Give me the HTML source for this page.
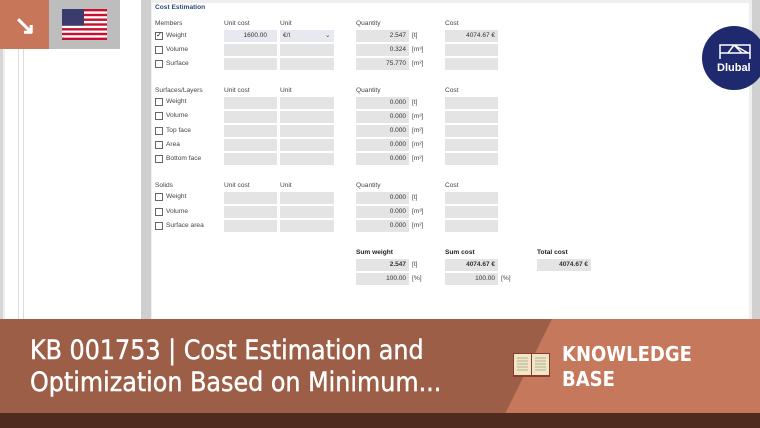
<!DOCTYPE html>
<html><head><meta charset="utf-8"><style>
*{margin:0;padding:0;box-sizing:border-box}
body{width:760px;height:428px;overflow:hidden;background:#efefef;font-family:"Liberation Sans",sans-serif;position:relative}
.a{position:absolute}
.t{position:absolute;font-size:6.6px;color:#444;white-space:nowrap}
.f{position:absolute;height:12px;background:#e4e4e4}
.n{position:absolute;font-size:6.5px;color:#333;text-align:right;line-height:12px;padding-right:3px}
.cb{position:absolute;width:8px;height:8px;border:1px solid #666;background:#fff}
</style></head><body>
<div class="a" style="left:0;top:0;width:3px;height:320px;background:#d6d6d6"></div>
<div class="a" style="left:5px;top:0;width:136px;height:320px;background:#fff"></div>
<div class="a" style="left:18px;top:0;width:1px;height:320px;background:#ddd"></div>
<div class="a" style="left:23px;top:0;width:1px;height:320px;background:#ddd"></div>
<div class="a" style="left:141px;top:0;width:10px;height:320px;background:#cfcfcf"></div>
<div class="a" style="left:152px;top:3px;width:597px;height:317px;background:#fff"></div>
<div class="a" style="left:752px;top:0;width:8px;height:320px;background:#d0d0d0"></div>
<div class="a" style="left:0;top:0;width:49px;height:49px;background:#c8765a"></div>
<div class="a" style="left:14px;top:12px;font-size:26px;color:#fff;font-weight:bold;line-height:26px">&#8600;</div>
<div class="a" style="left:49px;top:0;width:71px;height:49px;background:#bdbdbd"></div>
<svg class="a" style="left:62px;top:9px" width="45" height="31" viewBox="0 0 45 31">
<rect width="45" height="31" fill="#fff"/>
<g fill="#c8102e"><rect y="0" width="45" height="2.4"/><rect y="4.8" width="45" height="2.4"/><rect y="9.5" width="45" height="2.4"/><rect y="14.3" width="45" height="2.4"/><rect y="19.1" width="45" height="2.4"/><rect y="23.8" width="45" height="2.4"/><rect y="28.6" width="45" height="2.4"/></g>
<rect width="22" height="16.7" fill="#3c3b6e"/></svg>
<div class="a" style="left:702px;top:26px;width:64px;height:64px;border-radius:50%;background:#1f2a6e"></div>
<svg class="a" style="left:718px;top:43px" width="34" height="18"><g stroke="#fff" stroke-width="1.5" fill="none"><path d="M2 16V2h30v14M2 10h30M10 10L16 2M16 2L30 10M16 2L24 10"/></g></svg>
<div class="a" style="left:717px;top:62px;font-size:11px;font-weight:bold;color:#fff">Dlubal</div>
<div class="t" style="left:155px;top:4px;color:#2d4a7a;font-weight:bold">Cost Estimation</div>

<div class="t" style="left:155px;top:20px">Members</div><div class="t" style="left:224px;top:20px">Unit cost</div><div class="t" style="left:280px;top:20px">Unit</div><div class="t" style="left:356px;top:20px">Quantity</div><div class="t" style="left:445px;top:20px">Cost</div>
<div class="cb" style="left:155px;top:32px;font-size:7px;line-height:6px;text-align:center">&#10003;</div><div class="t" style="left:166px;top:32px">Weight</div>
<div class="f" style="left:224px;top:30px;width:53px;background:#e8e8f0"></div><div class="n" style="left:224px;top:30px;width:46px">1600.00</div>
<div class="f" style="left:280px;top:30px;width:54px;background:#e8e8f0"></div><div class="t" style="left:283px;top:32px">€/t</div><div class="t" style="left:325px;top:31px">&#8964;</div>
<div class="f" style="left:356px;top:30px;width:53px"></div><div class="n" style="left:356px;top:30px;width:53px">2.547</div><div class="t" style="left:412px;top:32px">[t]</div>
<div class="f" style="left:445px;top:30px;width:53px"></div><div class="n" style="left:445px;top:30px;width:53px">4074.67 €</div>
<div class="cb" style="left:155px;top:46px"></div><div class="t" style="left:166px;top:46px">Volume</div><div class="f" style="left:224px;top:44px;width:53px"></div><div class="f" style="left:280px;top:44px;width:54px"></div><div class="f" style="left:356px;top:44px;width:53px"></div><div class="n" style="left:356px;top:44px;width:53px">0.324</div><div class="t" style="left:412px;top:46px">[m³]</div><div class="f" style="left:445px;top:44px;width:53px"></div>
<div class="cb" style="left:155px;top:60px"></div><div class="t" style="left:166px;top:60px">Surface</div><div class="f" style="left:224px;top:58px;width:53px"></div><div class="f" style="left:280px;top:58px;width:54px"></div><div class="f" style="left:356px;top:58px;width:53px"></div><div class="n" style="left:356px;top:58px;width:53px">75.770</div><div class="t" style="left:412px;top:60px">[m²]</div><div class="f" style="left:445px;top:58px;width:53px"></div>

<div class="t" style="left:155px;top:87px">Surfaces/Layers</div><div class="t" style="left:224px;top:87px">Unit cost</div><div class="t" style="left:280px;top:87px">Unit</div><div class="t" style="left:356px;top:87px">Quantity</div><div class="t" style="left:445px;top:87px">Cost</div>
<div class="cb" style="left:155px;top:98px"></div><div class="t" style="left:166px;top:98px">Weight</div><div class="f" style="left:224px;top:97px;width:53px"></div><div class="f" style="left:280px;top:97px;width:54px"></div><div class="f" style="left:356px;top:97px;width:53px"></div><div class="n" style="left:356px;top:97px;width:53px">0.000</div><div class="t" style="left:412px;top:99px">[t]</div><div class="f" style="left:445px;top:97px;width:53px"></div>
<div class="cb" style="left:155px;top:112px"></div><div class="t" style="left:166px;top:112px">Volume</div><div class="f" style="left:224px;top:111px;width:53px"></div><div class="f" style="left:280px;top:111px;width:54px"></div><div class="f" style="left:356px;top:111px;width:53px"></div><div class="n" style="left:356px;top:111px;width:53px">0.000</div><div class="t" style="left:412px;top:113px">[m³]</div><div class="f" style="left:445px;top:111px;width:53px"></div>
<div class="cb" style="left:155px;top:127px"></div><div class="t" style="left:166px;top:127px">Top face</div><div class="f" style="left:224px;top:125px;width:53px"></div><div class="f" style="left:280px;top:125px;width:54px"></div><div class="f" style="left:356px;top:125px;width:53px"></div><div class="n" style="left:356px;top:125px;width:53px">0.000</div><div class="t" style="left:412px;top:127px">[m²]</div><div class="f" style="left:445px;top:125px;width:53px"></div>
<div class="cb" style="left:155px;top:141px"></div><div class="t" style="left:166px;top:141px">Area</div><div class="f" style="left:224px;top:139px;width:53px"></div><div class="f" style="left:280px;top:139px;width:54px"></div><div class="f" style="left:356px;top:139px;width:53px"></div><div class="n" style="left:356px;top:139px;width:53px">0.000</div><div class="t" style="left:412px;top:141px">[m²]</div><div class="f" style="left:445px;top:139px;width:53px"></div>
<div class="cb" style="left:155px;top:155px"></div><div class="t" style="left:166px;top:155px">Bottom face</div><div class="f" style="left:224px;top:153px;width:53px"></div><div class="f" style="left:280px;top:153px;width:54px"></div><div class="f" style="left:356px;top:153px;width:53px"></div><div class="n" style="left:356px;top:153px;width:53px">0.000</div><div class="t" style="left:412px;top:155px">[m²]</div><div class="f" style="left:445px;top:153px;width:53px"></div>

<div class="t" style="left:155px;top:182px">Solids</div><div class="t" style="left:224px;top:182px">Unit cost</div><div class="t" style="left:280px;top:182px">Unit</div><div class="t" style="left:356px;top:182px">Quantity</div><div class="t" style="left:445px;top:182px">Cost</div>
<div class="cb" style="left:155px;top:193px"></div><div class="t" style="left:166px;top:193px">Weight</div><div class="f" style="left:224px;top:192px;width:53px"></div><div class="f" style="left:280px;top:192px;width:54px"></div><div class="f" style="left:356px;top:192px;width:53px"></div><div class="n" style="left:356px;top:192px;width:53px">0.000</div><div class="t" style="left:412px;top:194px">[t]</div><div class="f" style="left:445px;top:192px;width:53px"></div>
<div class="cb" style="left:155px;top:208px"></div><div class="t" style="left:166px;top:208px">Volume</div><div class="f" style="left:224px;top:206px;width:53px"></div><div class="f" style="left:280px;top:206px;width:54px"></div><div class="f" style="left:356px;top:206px;width:53px"></div><div class="n" style="left:356px;top:206px;width:53px">0.000</div><div class="t" style="left:412px;top:208px">[m³]</div><div class="f" style="left:445px;top:206px;width:53px"></div>
<div class="cb" style="left:155px;top:222px"></div><div class="t" style="left:166px;top:222px">Surface area</div><div class="f" style="left:224px;top:220px;width:53px"></div><div class="f" style="left:280px;top:220px;width:54px"></div><div class="f" style="left:356px;top:220px;width:53px"></div><div class="n" style="left:356px;top:220px;width:53px">0.000</div><div class="t" style="left:412px;top:222px">[m²]</div><div class="f" style="left:445px;top:220px;width:53px"></div>

<div class="t" style="left:356px;top:249px;font-weight:bold;color:#222">Sum weight</div><div class="t" style="left:445px;top:249px;font-weight:bold;color:#222">Sum cost</div><div class="t" style="left:537px;top:249px;font-weight:bold;color:#222">Total cost</div>
<div class="f" style="left:356px;top:259px;width:53px"></div><div class="n" style="left:356px;top:259px;width:53px;font-weight:bold">2.547</div><div class="t" style="left:412px;top:261px">[t]</div>
<div class="f" style="left:445px;top:259px;width:53px"></div><div class="n" style="left:445px;top:259px;width:53px;font-weight:bold">4074.67 €</div>
<div class="f" style="left:537px;top:259px;width:54px"></div><div class="n" style="left:537px;top:259px;width:54px;font-weight:bold">4074.67 €</div>
<div class="f" style="left:356px;top:273px;width:53px"></div><div class="n" style="left:356px;top:273px;width:53px">100.00</div><div class="t" style="left:412px;top:275px">[%]</div>
<div class="f" style="left:445px;top:273px;width:53px"></div><div class="n" style="left:445px;top:273px;width:53px">100.00</div><div class="t" style="left:501px;top:275px">[%]</div>

<svg class="a" style="left:0;top:319px" width="760" height="109">
<rect width="760" height="95" fill="#9d5e47"/>
<polygon points="552,0 760,0 760,95 505,95" fill="#c5785c"/>
<rect y="94" width="760" height="15" fill="#4e2a1f"/>
<g transform="translate(513,34)"><rect width="37" height="24" fill="#8c3b2a"/><rect x="1" y="1" width="17" height="21" fill="#efe6c8"/><rect x="19" y="1" width="17" height="21" fill="#efe6c8"/>
<g stroke="#b9ad8a" stroke-width="1"><path d="M4 5h11M4 8h11M4 11h11M4 14h11M4 17h11M22 5h11M22 8h11M22 11h11M22 14h11M22 17h11"/></g></g>
</svg>
<div class="a" style="left:30px;top:335px;font-size:26.5px;line-height:32px;color:#fff;font-family:'DejaVu Sans Condensed','DejaVu Sans',sans-serif;white-space:nowrap;-webkit-text-stroke:0.4px #fff">KB 001753 | Cost Estimation and<br>Optimization Based on Minimum...</div>
<div class="a" style="left:562px;top:342px;font-size:20px;line-height:25px;color:#fff;font-weight:bold;font-family:'DejaVu Sans Condensed','DejaVu Sans',sans-serif">KNOWLEDGE<br>BASE</div>
</body></html>
